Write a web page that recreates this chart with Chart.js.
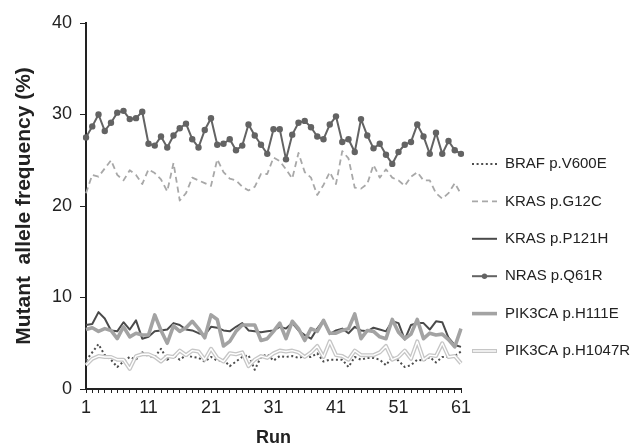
<!DOCTYPE html>
<html>
<head>
<meta charset="utf-8">
<script src="https://cdn.jsdelivr.net/npm/chart.js@4.4.0/dist/chart.umd.min.js"></script>
<style>
  html, body { margin: 0; padding: 0; background: #fff; }
  #wrap { width: 635px; height: 447px; }
</style>
</head>
<body>
<div id="wrap"><canvas id="chart" width="635" height="447"></canvas></div>
<script>
// Runs 1..61 and the labels shown under the x axis
const runs = [1,2,3,4,5,6,7,8,9,10,11,12,13,14,15,16,17,18,19,20,21,22,23,24,25,26,27,28,29,30,
  31,32,33,34,35,36,37,38,39,40,41,42,43,44,45,46,47,48,49,50,51,52,53,54,55,56,57,58,59,60,61];
const xTickLabels = ['1', '11', '21', '31', '41', '51', '61'];

const seriesNames = ['BRAF p.V600E', 'KRAS p.G12C', 'KRAS p.P121H', 'NRAS p.Q61R', 'PIK3CA p.H111E', 'PIK3CA p.H1047R'];

// Mutant allele frequency (%) per run
const brafV600E = [3.1, 4.0, 4.9, 3.7, 3.2, 2.4, 3.0, 3.5, 3.2, 4.0, 3.6, 3.5, 4.4, 3.2, 3.7,
  3.2, 3.7, 3.5, 3.4, 3.0, 3.5, 3.1, 3.2, 2.5, 3.0, 3.5, 3.7, 2.1, 3.5, 3.8, 3.1,
  3.6, 3.5, 3.6, 3.4, 3.6, 3.5, 3.9, 3.0, 3.2, 3.2, 3.2, 2.4, 3.5, 3.2, 3.4, 3.4, 3.2, 2.6, 3.5,
  3.1, 2.4, 2.6, 3.2, 3.1, 3.5, 2.9, 3.5, 3.5, 3.6, 4.1];
const krasG12C = [21.4, 23.4, 23.2, 24.1, 25.0, 23.4, 22.8, 23.9, 23.4, 22.4, 24.0, 23.6, 22.9, 21.6, 24.7, 20.6,
  21.4, 23.1, 22.8, 22.5, 22.2, 25.1, 23.7, 23.0, 22.8, 22.1, 21.7, 22.1, 23.5, 23.5, 25.3, 24.9,
  24.0, 23.0, 25.8, 23.7, 23.1, 21.2, 22.3, 23.7, 22.4, 26.0, 25.2, 22.0, 21.9, 22.4, 24.5, 23.1,
  24.0, 23.1, 22.8, 22.2, 23.2, 23.7, 22.8, 22.8, 21.4, 20.8, 21.4, 22.5, 21.3];
const krasP121H = [7.0, 7.1, 8.4, 7.7, 6.4, 6.3, 7.3, 6.5, 7.5, 5.5, 5.7, 6.3, 6.4, 6.5, 7.2,
  7.0, 6.5, 6.4, 6.1, 5.9, 6.8, 6.7, 6.4, 6.3, 6.8, 7.2, 6.4, 6.3, 6.2, 6.3, 6.4,
  6.8, 6.6, 7.2, 6.4, 5.9, 5.5, 6.6, 7.5, 6.0, 6.4, 6.6, 6.1, 6.8, 6.4, 6.3, 6.7, 6.5, 6.3, 7.4,
  7.2, 5.4, 7.0, 7.2, 7.2, 6.5, 7.4, 7.3, 5.6, 4.8, 4.6];
const nrasQ61R = [27.5, 28.7, 30.0, 28.2, 29.1, 30.2, 30.4, 29.5, 29.6, 30.3, 26.8, 26.6, 27.6, 26.4, 27.7, 28.5,
  29.0, 27.3, 26.4, 28.3, 29.6, 26.7, 26.8, 27.3, 26.1, 26.6, 28.9, 27.7, 26.7, 25.7, 28.4, 28.4,
  25.1, 27.8, 29.1, 29.3, 28.6, 27.6, 27.3, 28.9, 29.8, 27.0, 27.3, 25.9, 29.5, 27.7, 26.3, 26.8,
  25.6, 24.6, 25.9, 26.7, 27.0, 28.9, 27.6, 25.7, 28.0, 25.7, 27.1, 26.1, 25.7];
const pik3caH111E = [6.5, 6.7, 6.3, 6.6, 6.4, 5.5, 6.8, 5.7, 6.1, 5.9, 5.9, 8.1, 6.4, 5.0, 6.9,
  6.3, 6.7, 7.4, 6.6, 5.6, 8.1, 7.6, 4.7, 5.2, 6.3, 7.0, 7.0, 7.0, 5.3, 5.5, 6.3,
  7.2, 5.5, 7.4, 6.6, 5.3, 6.6, 6.3, 7.5, 6.1, 6.1, 6.4, 6.6, 8.2, 5.5, 6.4, 6.3, 5.7, 5.5, 7.6,
  6.2, 5.5, 6.0, 7.6, 5.5, 6.1, 5.9, 6.0, 5.4, 4.6, 6.6];
const pik3caH1047R = [2.6, 3.3, 3.6, 3.5, 3.5, 3.2, 3.2, 2.2, 3.6, 3.8, 3.8, 3.5, 3.0, 3.6, 3.5,
  4.2, 3.7, 4.2, 4.1, 3.2, 4.4, 3.4, 3.0, 3.9, 3.8, 4.0, 2.5, 3.2, 3.6, 3.4, 3.9,
  4.2, 4.1, 4.2, 4.0, 3.5, 4.0, 4.7, 3.5, 5.2, 3.7, 3.6, 3.2, 4.2, 3.7, 3.7, 3.7, 4.0, 4.7, 3.2,
  3.5, 4.2, 3.3, 5.2, 3.2, 3.7, 3.6, 5.0, 3.5, 3.6, 2.8];

const FONT = '"Liberation Sans", Arial, Helvetica, sans-serif';
const AXIS = '#222';

// Legend drawn to the right of the plot, one row per named series
const sideLegend = {
  id: 'sideLegend',
  afterDraw(chart) {
    const ctx = chart.ctx;
    const x0 = 472, x1 = 497, textX = 505, top = 164, step = 37.4;
    ctx.save();
    ctx.font = '15px ' + FONT;
    ctx.textBaseline = 'middle';
    let row = 0;
    chart.data.datasets.forEach(ds => {
      if (ds.noLegend) return;
      const y = top + row * step;
      ctx.beginPath();
      ctx.setLineDash(ds.borderDash || []);
      ctx.strokeStyle = ds.borderColor;
      ctx.lineWidth = ds.borderWidth;
      ctx.moveTo(x0, y);
      ctx.lineTo(x1, y);
      ctx.stroke();
      if (ds.innerColor) {
        ctx.beginPath();
        ctx.strokeStyle = ds.innerColor;
        ctx.lineWidth = ds.innerWidth;
        ctx.moveTo(x0 + 1, y);
        ctx.lineTo(x1 - 1, y);
        ctx.stroke();
      }
      ctx.setLineDash([]);
      if (ds.pointRadius > 0) {
        ctx.beginPath();
        ctx.fillStyle = ds.pointBackgroundColor;
        ctx.arc((x0 + x1) / 2, y, ds.pointRadius - 0.5, 0, Math.PI * 2);
        ctx.fill();
      }
      ctx.fillStyle = AXIS;
      ctx.fillText(ds.label, textX, y);
      row++;
    });
    ctx.restore();
  }
};

const line = (label, data, style) => Object.assign({
  label, data,
  pointRadius: 0,
  pointHoverRadius: 0,
  tension: 0,
  fill: false,
  borderJoinStyle: 'round'
}, style);

new Chart(document.getElementById('chart').getContext('2d'), {
  type: 'line',
  data: {
    labels: runs,
    datasets: [
      line(seriesNames[0], brafV600E, { borderColor: '#4d4d4d', borderWidth: 2, borderDash: [2, 2.6], order: 6 }),
      line(seriesNames[1], krasG12C, { borderColor: '#a8a8a8', borderWidth: 1.8, borderDash: [6, 4], order: 5 }),
      line(seriesNames[2], krasP121H, { borderColor: '#4a4a4a', borderWidth: 2, order: 4 }),
      line(seriesNames[3], nrasQ61R, { borderColor: '#636363', borderWidth: 2, pointRadius: 3.2,
        pointBackgroundColor: '#636363', pointBorderWidth: 0, order: 3 }),
      line(seriesNames[4], pik3caH111E, { borderColor: '#a3a3a3', borderWidth: 3.6, order: 2 }),
      line(seriesNames[5], pik3caH1047R, { borderColor: '#c6c6c6', borderWidth: 4,
        innerColor: '#ffffff', innerWidth: 1.4, order: 1 }),
      // white core of the double line
      line(seriesNames[5], pik3caH1047R, { borderColor: '#ffffff', borderWidth: 1.4, noLegend: true, order: 0 })
    ]
  },
  options: {
    responsive: false,
    animation: false,
    devicePixelRatio: 1,
    layout: { padding: { top: 23, right: 174, bottom: 0, left: 0 } },
    plugins: {
      legend: { display: false },
      tooltip: { enabled: false }
    },
    scales: {
      x: {
        type: 'category',
        offset: false,
        afterFit: s => { s.height = 58; },
        border: { display: true, color: AXIS, width: 2 },
        grid: { display: true, drawOnChartArea: false, drawTicks: true, tickLength: 4, color: AXIS, lineWidth: 1 },
        ticks: {
          autoSkip: false,
          maxRotation: 0,
          padding: 4,
          color: AXIS,
          font: { family: FONT, size: 18 },
          callback: function (value) {
            const lab = String(this.getLabelForValue(value));
            return xTickLabels.includes(lab) ? lab : '';
          }
        },
        title: {
          display: true,
          text: 'Run',
          color: AXIS,
          padding: 0,
          font: { family: FONT, size: 18, weight: 'bold', lineHeight: 1 }
        }
      },
      y: {
        min: 0,
        max: 40,
        afterFit: s => { s.width = 86; },
        border: { display: true, color: AXIS, width: 2 },
        grid: { display: true, drawOnChartArea: false, drawTicks: true, tickLength: 6, color: AXIS, lineWidth: 1 },
        ticks: {
          stepSize: 10,
          padding: 8,
          color: AXIS,
          font: { family: FONT, size: 18 }
        },
        title: {
          display: true,
          text: 'Mutant  allele frequency (%)',
          color: AXIS,
          padding: { top: 12, bottom: 0 },
          font: { family: FONT, size: 21, weight: 'bold', lineHeight: 1.2 }
        }
      }
    }
  },
  plugins: [sideLegend]
});
</script>
</body>
</html>
